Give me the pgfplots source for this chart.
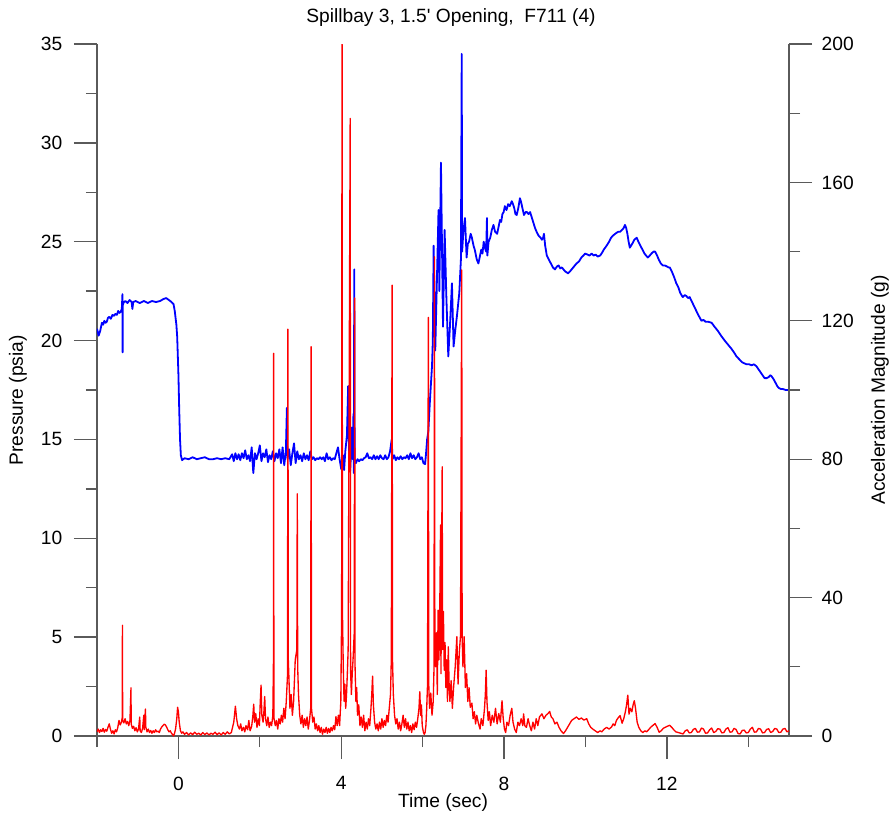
\documentclass[border=0pt]{standalone}
\usepackage{pgfplots}
\pgfplotsset{compat=1.18}
\usepackage{fontspec}
\setmainfont{Liberation Sans}
\newfontfamily\plainfont{Liberation Sans}
\definecolor{axgray}{RGB}{90,90,90}
\newcommand\lbl{\fontsize{14.4}{16}\selectfont}
\begin{document}
\begin{tikzpicture}
\useasboundingbox (-72.75pt,-62.25pt) rectangle (597.75pt,552pt);
\pgfplotsset{
  common/.style={
    scale only axis, width=519pt, height=519pt,
    xmin=-2, xmax=15,
    tick align=outside,
    major tick length=17.25pt, minor tick length=8.25pt,
    axis line style={axgray, line width=1pt},
    every tick/.style={axgray, line width=1pt},
    tick label style={font=\lbl, black},
    /pgf/number format/assume math mode=true,
    clip=true,
  }
}
% ---------- blue: pressure, left axis ----------
\begin{axis}[common,
  axis x line*=bottom, axis y line*=left,
  ymin=0, ymax=35,
  xtick={0,4,8,12}, minor xtick={-2,2,6,10,14},
  ytick={0,5,...,35}, minor ytick={2.5,7.5,...,32.5},
  xticklabel style={yshift=-9.75pt},
  yticklabel style={xshift=-5.25pt},
  xlabel={Time (sec)}, ylabel={Pressure (psia)},
  every axis x label/.style={at={(axis description cs:0.5,-0.0955)}, anchor=center, font=\lbl},
  every axis y label/.style={at={(axis description cs:-0.1142,0.485)}, anchor=center, rotate=90, font=\lbl},
  title={{\plainfont Spillbay 3, 1.5' Opening,\ \ F711 (4)}},
  every axis title/.style={at={(axis description cs:0.5,1)}, anchor=center, yshift=19.5pt, xshift=6pt, font=\lbl},
]
\addplot[blue, line width=1.35pt, line join=round] table {
-2.00 20.6
-1.96 20.25
-1.92 20.5
-1.88 20.9
-1.85 20.8
-1.82 21.0
-1.79 20.9
-1.76 20.95
-1.73 21.15
-1.70 21.2
-1.66 21.1
-1.62 21.3
-1.58 21.25
-1.55 21.35
-1.51 21.3
-1.48 21.5
-1.45 21.4
-1.42 21.45
-1.39 21.6
-1.375 22.35
-1.37 19.4
-1.365 21.8
-1.34 21.95
-1.30 22.0
-1.25 21.9
-1.20 22.05
-1.15 21.95
-1.13 21.6
-1.11 21.95
-1.05 22.0
-0.95 21.9
-0.85 22.0
-0.75 21.9
-0.65 22.0
-0.55 21.95
-0.45 22.0
-0.37 22.1
-0.30 22.15
-0.20 22.0
-0.12 21.85
-0.09 21.5
-0.05 20.8
-0.03 20.2
0.00 18.3
0.02 16.5
0.04 15.0
0.06 14.2
0.09 13.95
0.15 14.05
0.25 14.0
0.35 14.1
0.45 14.0
0.55 14.05
0.65 14.1
0.75 14.0
0.85 14.0
0.95 14.05
1.05 14.0
1.15 14.05
1.25 14.0
1.32 14.25
1.36 13.9
1.40 14.3
1.44 14.0
1.48 14.25
1.52 13.95
1.56 14.3
1.60 14.05
1.64 14.45
1.68 14.0
1.72 14.2
1.76 13.9
1.80 14.6
1.84 13.3
1.88 14.3
1.92 14.0
1.96 14.3
2.00 14.7
2.04 13.9
2.08 14.3
2.12 14.1
2.16 14.5
2.20 13.85
2.24 14.2
2.28 14.0
2.32 14.4
2.36 13.9
2.40 14.3
2.44 14.05
2.48 14.5
2.52 13.8
2.56 14.6
2.60 13.7
2.64 14.4
2.665 16.6
2.68 14.0
2.72 14.5
2.76 13.7
2.80 14.3
2.84 14.8
2.88 13.8
2.92 14.4
2.96 14.0
3.00 14.2
3.04 13.9
3.08 14.3
3.12 14.0
3.16 14.2
3.20 13.95
3.24 14.4
3.28 14.0
3.32 14.1
3.36 13.95
3.40 14.05
3.44 14.0
3.48 14.1
3.52 14.0
3.56 14.1
3.60 13.9
3.64 14.3
3.68 14.0
3.72 14.1
3.76 13.95
3.80 14.05
3.84 14.0
3.88 14.3
3.92 14.6
3.96 14.0
4.00 13.5
4.04 14.2
4.07 13.45
4.10 14.4
4.14 15.2
4.17 17.7
4.19 14.6
4.22 13.4
4.24 14.3
4.26 15.6
4.28 14.0
4.30 16.3
4.31 13.3
4.32 23.6
4.33 14.0
4.36 13.8
4.40 14.0
4.44 13.9
4.48 14.0
4.52 13.95
4.56 14.05
4.60 14.1
4.64 14.3
4.68 14.05
4.72 14.1
4.76 14.0
4.80 14.2
4.84 14.0
4.88 14.15
4.92 14.0
4.96 14.2
5.00 14.05
5.04 14.0
5.08 14.2
5.12 14.0
5.16 14.1
5.20 14.4
5.24 15.0
5.26 14.0
5.30 14.2
5.34 13.95
5.38 14.1
5.42 14.0
5.46 14.15
5.50 14.0
5.54 14.1
5.58 14.05
5.62 14.2
5.66 14.0
5.70 14.3
5.74 14.05
5.78 14.2
5.82 14.0
5.86 14.1
5.90 14.3
5.94 14.0
5.98 14.1
6.02 13.8
6.06 13.75
6.08 14.2
6.11 15.0
6.14 15.4
6.18 17.0
6.23 18.7
6.25 20.0
6.27 24.8
6.31 19.5
6.35 23.0
6.39 26.6
6.41 22.5
6.45 29.0
6.50 20.7
6.54 25.6
6.58 22.4
6.63 19.2
6.67 20.7
6.72 22.9
6.76 19.7
6.80 20.5
6.84 21.2
6.90 22.4
6.94 24.1
6.96 34.5
6.97 24.5
7.00 25.5
7.04 26.2
7.08 24.2
7.11 24.9
7.14 25.0
7.18 25.4
7.21 25.2
7.25 24.8
7.28 24.6
7.33 24.1
7.37 23.9
7.41 24.3
7.44 24.6
7.47 24.4
7.50 25.0
7.53 24.7
7.56 24.5
7.58 26.2
7.59 24.3
7.62 25.0
7.66 25.2
7.70 25.6
7.74 25.85
7.78 25.5
7.83 25.4
7.87 25.8
7.90 26.1
7.93 26.0
7.96 26.4
7.99 26.5
8.02 26.8
8.06 26.6
8.10 26.9
8.14 26.8
8.19 27.05
8.22 26.9
8.25 26.7
8.28 26.4
8.31 26.35
8.35 26.7
8.39 27.2
8.42 27.0
8.44 26.8
8.49 26.35
8.53 26.5
8.56 26.5
8.60 26.4
8.64 26.5
8.67 26.3
8.70 26.1
8.73 25.9
8.76 25.7
8.80 25.5
8.85 25.3
8.90 25.2
8.93 25.1
8.96 25.2
8.98 25.4
9.01 24.8
9.05 24.3
9.10 24.1
9.15 23.9
9.20 23.7
9.25 23.6
9.30 23.75
9.34 23.8
9.38 23.65
9.42 23.7
9.46 23.6
9.50 23.5
9.54 23.45
9.57 23.4
9.62 23.5
9.66 23.6
9.72 23.75
9.78 23.9
9.84 24.0
9.90 24.2
9.95 24.3
9.99 24.4
10.05 24.35
10.10 24.3
10.15 24.4
10.20 24.3
10.25 24.35
10.30 24.25
10.36 24.3
10.41 24.45
10.45 24.6
10.52 24.8
10.58 25.0
10.63 25.2
10.67 25.3
10.73 25.4
10.80 25.5
10.85 25.5
10.90 25.6
10.94 25.7
10.97 25.85
11.00 25.7
11.03 25.4
11.06 25.0
11.09 24.7
11.12 24.8
11.15 24.9
11.20 25.1
11.26 25.2
11.30 25.0
11.35 24.8
11.40 24.6
11.45 24.4
11.49 24.3
11.53 24.2
11.58 24.3
11.62 24.4
11.67 24.5
11.71 24.5
11.76 24.3
11.80 24.1
11.85 23.9
11.90 23.8
11.95 23.8
12.00 23.75
12.04 23.7
12.07 23.7
12.12 23.5
12.18 23.2
12.23 22.9
12.28 22.7
12.33 22.4
12.39 22.2
12.44 22.3
12.48 22.25
12.52 22.15
12.56 22.2
12.63 21.9
12.70 21.6
12.77 21.3
12.85 21.0
12.90 21.05
12.95 20.95
13.02 20.95
13.10 20.9
13.17 20.7
13.25 20.5
13.33 20.25
13.42 20.0
13.50 19.8
13.58 19.6
13.65 19.4
13.71 19.2
13.78 19.05
13.85 18.9
13.90 18.85
13.96 18.8
14.02 18.8
14.08 18.75
14.14 18.8
14.20 18.7
14.25 18.55
14.30 18.4
14.35 18.25
14.40 18.1
14.45 18.1
14.50 18.15
14.54 18.25
14.57 18.2
14.62 18.05
14.66 17.9
14.71 17.7
14.75 17.6
14.80 17.55
14.85 17.55
14.92 17.5
15.00 17.5
};
\end{axis}
% ---------- red: acceleration, right axis ----------
\begin{axis}[common,
  axis x line=none, axis y line*=right,
  ymin=0, ymax=200,
  ytick={0,40,...,200}, minor ytick={20,60,...,180},
  yticklabel style={xshift=3.75pt},
  ylabel={Acceleration Magnitude (g)},
  every axis y label/.style={at={(axis description cs:1.1315,0.5)}, anchor=center, rotate=90, font=\lbl},
]
\addplot[red, line width=1pt, line join=round] table {
-2.00 1.2
-1.97 2.0
-1.94 1.0
-1.91 1.8
-1.88 1.3
-1.85 2.2
-1.82 1.1
-1.79 1.9
-1.76 1.4
-1.73 2.5
-1.70 3.5
-1.67 2.0
-1.64 0.8
-1.61 1.5
-1.58 0.6
-1.55 1.8
-1.52 1.2
-1.49 2.4
-1.46 4.5
-1.43 3.2
-1.40 4.0
-1.38 5.3
-1.375 32
-1.37 4.5
-1.34 3.8
-1.31 5.0
-1.28 3.5
-1.25 4.2
-1.22 3.0
-1.19 4.5
-1.165 13.9
-1.16 3.5
-1.13 2.2
-1.10 2.8
-1.07 1.5
-1.04 2.4
-1.01 1.2
-0.98 2.0
-0.95 5.5
-0.94 1.5
-0.91 1.0
-0.88 2.2
-0.85 6.0
-0.84 1.8
-0.81 7.8
-0.80 2.5
-0.77 1.2
-0.74 2.0
-0.71 1.0
-0.68 1.6
-0.65 0.8
-0.62 1.5
-0.59 1.0
-0.56 1.8
-0.53 1.2
-0.50 1.4
-0.47 1.0
-0.44 2.0
-0.41 2.6
-0.38 3.0
-0.35 3.4
-0.32 3.2
-0.29 2.6
-0.26 1.8
-0.23 1.2
-0.20 1.5
-0.17 0.8
-0.14 0.4
-0.12 0.0
-0.10 0.6
-0.07 2.0
-0.04 5.0
-0.02 8.3
0.00 7.0
0.02 4.0
0.05 1.5
0.08 0.8
0.11 1.2
0.15 0.5
0.20 1.0
0.25 0.3
0.30 0.9
0.35 0.4
0.40 1.1
0.45 0.5
0.50 0.8
0.55 0.3
0.60 1.0
0.65 0.4
0.70 0.9
0.75 0.3
0.80 0.8
0.85 0.5
0.90 1.1
0.95 0.4
1.00 0.9
1.05 0.3
1.10 1.0
1.15 0.5
1.20 1.2
1.25 0.6
1.30 1.0
1.33 2.5
1.36 4.0
1.40 8.6
1.43 5.0
1.46 3.0
1.50 2.0
1.53 3.5
1.56 1.5
1.60 2.5
1.63 1.2
1.66 3.0
1.70 1.8
1.73 4.5
1.76 1.5
1.80 2.8
1.83 6.0
1.85 9.2
1.87 4.0
1.90 6.5
1.93 2.5
1.96 5.0
1.99 3.0
2.01 9.5
2.03 14.7
2.05 6.0
2.08 4.0
2.10 7.0
2.12 11.4
2.14 5.0
2.17 3.0
2.20 5.5
2.23 2.5
2.26 4.0
2.29 3.0
2.32 6.0
2.335 22
2.34 110.6
2.345 20
2.35 5.0
2.38 3.0
2.41 4.5
2.44 2.0
2.47 5.0
2.50 3.5
2.53 6.0
2.56 4.0
2.59 8.0
2.62 5.0
2.65 10.0
2.68 17.6
2.69 117.6
2.70 22
2.72 15
2.74 8.0
2.77 12.0
2.80 6.0
2.83 10.0
2.85 16
2.87 22
2.91 25
2.92 70
2.93 20
2.95 12
2.98 6.0
3.01 3.5
3.04 6.0
3.07 2.5
3.10 5.0
3.13 3.0
3.16 5.5
3.19 2.0
3.22 4.5
3.25 8.0
3.26 112.5
3.27 8.0
3.30 4.0
3.33 5.5
3.36 2.0
3.39 3.5
3.42 1.5
3.45 3.0
3.48 1.0
3.51 2.5
3.54 0.5
3.57 2.0
3.60 1.0
3.63 2.5
3.66 0.8
3.69 2.2
3.72 1.0
3.75 2.5
3.78 1.5
3.81 3.0
3.84 1.8
3.87 5.6
3.90 3.0
3.93 6.0
3.96 3.0
3.99 10.0
4.01 36
4.02 215
4.03 36
4.05 20
4.07 10
4.09 15
4.11 8
4.13 12
4.15 18
4.17 25
4.22 178.5
4.23 18.6
4.25 12
4.27 18
4.29 22
4.32 30
4.33 126.6
4.34 20
4.36 10
4.38 14
4.40 6
4.43 9
4.46 3
4.49 5.5
4.52 2.5
4.55 6.0
4.58 1.5
4.61 4.0
4.64 2.0
4.67 5.0
4.70 3.0
4.73 8.0
4.75 12
4.77 17.3
4.79 9
4.82 4.0
4.85 2.0
4.88 3.5
4.91 1.5
4.94 4.0
4.97 2.0
5.00 5.0
5.03 2.5
5.06 4.5
5.09 3.0
5.12 6.0
5.15 4.0
5.18 8.0
5.21 12
5.23 22
5.25 130.3
5.26 22
5.28 12
5.31 6.0
5.34 3.5
5.37 5.0
5.40 2.0
5.43 4.0
5.46 1.5
5.49 3.5
5.52 6.0
5.55 2.5
5.58 5.0
5.61 2.0
5.64 4.0
5.67 1.5
5.70 3.0
5.73 1.0
5.76 3.5
5.79 1.8
5.82 4.0
5.85 2.5
5.88 5.0
5.91 8.0
5.93 12.8
5.95 6
5.97 9
5.99 3
6.02 1
6.04 0.5
6.06 1.0
6.08 3.0
6.10 8
6.12 15
6.14 121
6.15 15
6.17 8
6.20 12.4
6.23 6
6.26 10
6.28 20
6.29 138.5
6.30 30
6.32 20
6.34 29.8
6.36 12
6.38 36.4
6.40 22
6.42 36
6.44 61
6.45 18
6.48 77.8
6.49 25
6.51 36
6.53 19
6.55 27
6.57 14
6.59 22
6.61 10
6.63 25.8
6.65 15
6.67 10
6.70 16
6.73 8
6.76 14
6.80 20
6.84 28.7
6.87 15
6.90 24
6.93 29
6.96 134.7
6.97 28.7
6.99 20
7.02 28.7
7.05 14
7.08 18
7.11 10
7.14 14
7.17 8.3
7.21 9.5
7.24 5
7.27 7
7.30 3.5
7.33 6
7.37 3.7
7.41 2
7.44 5
7.48 3
7.52 8
7.54 12
7.56 19
7.58 10
7.61 4.5
7.64 7
7.67 3
7.71 6
7.75 4
7.79 8
7.83 3.5
7.87 6.5
7.91 4
7.95 10.2
7.98 5
8.01 2
8.04 1
8.07 4
8.11 3
8.15 6
8.19 8
8.22 4
8.26 2
8.30 1
8.34 4
8.38 3
8.42 5
8.46 3
8.48 6.4
8.51 3
8.55 2.5
8.59 5
8.63 3
8.67 1.5
8.71 4
8.75 2
8.79 5
8.83 3
8.87 5.5
8.93 6.4
8.98 5
9.03 6
9.08 6.5
9.12 7.1
9.16 5.5
9.20 5
9.25 3.5
9.30 4
9.35 2.5
9.40 1.5
9.46 0.7
9.51 1.5
9.56 2.5
9.61 3.5
9.66 4.5
9.72 5.0
9.78 5.5
9.84 4.8
9.90 5.2
9.96 4.6
10.03 5
10.08 3.5
10.13 2.5
10.18 2
10.24 1.5
10.30 1.0
10.36 1.5
10.40 1.2
10.46 2
10.52 2.5
10.58 2.0
10.64 2.6
10.68 3.5
10.72 3
10.76 4.5
10.80 5.2
10.85 5.9
10.90 3.7
10.94 5
10.98 7
11.01 9
11.04 11.8
11.07 6.3
11.10 8
11.14 7
11.17 9
11.20 10.2
11.23 8
11.27 4
11.31 2.5
11.36 1.5
11.41 1
11.46 1.5
11.50 1.2
11.55 1.8
11.60 2.5
11.65 3.0
11.71 3.6
11.76 2.5
11.81 1.1
11.86 1.5
11.91 2.2
11.96 2.5
12.01 2.8
12.07 3.1
12.12 2.5
12.17 1.8
12.22 1.2
12.28 1.0
12.34 0.8
12.40 0.6
12.45 1.5
12.50 1.8
12.55 0.9
12.60 1.0
12.65 1.9
12.70 2.2
12.75 1.1
12.80 1.2
12.85 2.3
12.90 2.0
12.95 0.8
13.00 0.9
13.05 1.8
13.10 2.3
13.15 1.0
13.20 1.3
13.25 2.1
13.30 2.0
13.35 0.9
13.40 1.0
13.45 2.0
13.50 2.4
13.55 1.1
13.60 1.2
13.65 2.2
13.70 1.9
13.75 0.7
13.80 0.6
13.85 1.6
13.90 1.7
13.95 0.9
14.00 1.0
14.05 2.0
14.10 2.5
14.15 1.1
14.20 1.2
14.25 2.2
14.30 2.0
14.35 0.9
14.40 1.0
14.45 1.9
14.50 2.1
14.55 1.0
14.60 1.3
14.65 2.2
14.70 2.0
14.75 1.0
14.80 1.1
14.85 2.0
14.90 2.2
14.95 1.2
15.00 1.5
};
\end{axis}
\end{tikzpicture}
\end{document}
